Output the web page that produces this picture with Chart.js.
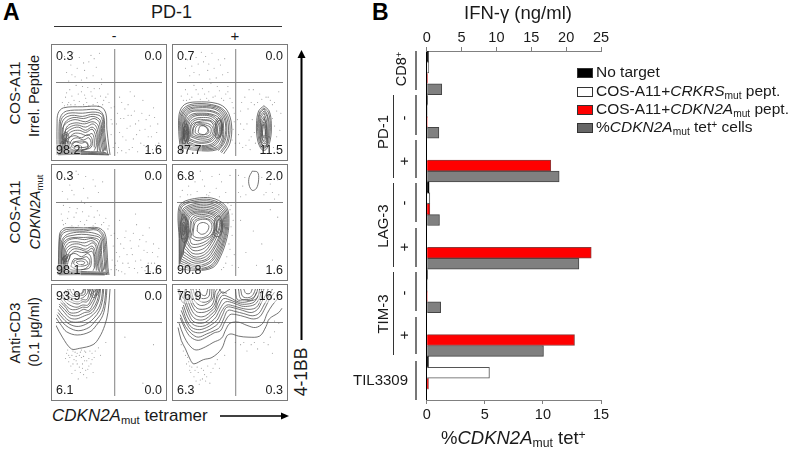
<!DOCTYPE html>
<html>
<head>
<meta charset="utf-8">
<script src="https://cdn.jsdelivr.net/npm/chart.js@4"></script>
<style>
html, body { margin: 0; padding: 0; background: #fff; }
body { width: 791px; height: 452px; position: relative; overflow: hidden; font-family: "Liberation Sans", Arial, sans-serif; color: #1a1a1a; }
.t { position: absolute; white-space: nowrap; line-height: 1; }
.rot { transform: translate(-50%, -50%) rotate(-90deg); }
.mid { transform: translate(-50%, -50%); }
sub { font-size: 66%; vertical-align: baseline; position: relative; top: .28em; }
sup { font-size: 66%; vertical-align: baseline; position: relative; top: -.38em; }
.plot { position: absolute; width: 114px; height: 115px; outline: 1px solid #7a7a7a; }
.plot canvas { display: block; }
.q { position: absolute; font-size: 12.5px; line-height: 1; padding: 0 1px; }
.q.tl { left: 3px; top: 5px; } .q.tr { right: 3px; top: 5px; }
.q.bl { left: 3px; bottom: 4px; background: rgba(255,255,255,.35); } .q.br { right: 3px; bottom: 4px; }
.swatch { position: absolute; left: 577px; width: 14px; height: 8px; border: 1px solid #333; }
.ln { position: absolute; }
</style>
</head>
<body>

<div class="t" style="left:3px;top:1px;font-size:23px;font-weight:bold;color:#000">A</div>
<div class="t" style="left:372px;top:1px;font-size:23px;font-weight:bold;color:#000">B</div>

<div class="t" style="left:151px;top:3px;font-size:18px">PD-1</div>
<div class="ln" style="left:54px;top:26px;width:228px;height:1px;background:#333"></div>
<div class="t mid" style="left:114px;top:36px;font-size:14px">-</div>
<div class="t mid" style="left:235px;top:35px;font-size:15px">+</div>

<div class="t rot" style="left:14px;top:93px;font-size:15px">COS-A11</div>
<div class="t rot" style="left:34px;top:96px;font-size:14.5px">Irrel. Peptide</div>
<div class="t rot" style="left:14px;top:212px;font-size:15px">COS-A11</div>
<div class="t rot" style="left:35px;top:212px;font-size:14.5px"><i>CDKN2A</i><sub>mut</sub></div>
<div class="t rot" style="left:14px;top:333px;font-size:15px">Anti-CD3</div>
<div class="t rot" style="left:34px;top:332px;font-size:14.5px">(0.1 μg/ml)</div>

<div class="t" style="left:52px;top:407px;font-size:17px"><i>CDKN2A</i><sub>mut</sub> tetramer</div>
<div class="t rot" style="left:302px;top:372px;font-size:17.5px">4-1BB</div>

<svg style="position:absolute;left:0;top:0" width="791" height="452">
  <line x1="301.5" y1="340" x2="301.5" y2="56" stroke="#000" stroke-width="2"/>
  <path d="M301.5 50 L297.5 58 L305.5 58 Z" fill="#000"/>
  <line x1="220" y1="416" x2="284" y2="416" stroke="#000" stroke-width="1.5"/>
  <path d="M289 416 L281 412.5 L281 419.5 Z" fill="#000"/>
</svg>

<div class="plot" id="plot0" style="left:52px;top:45px"><canvas id="c0" width="114" height="115"></canvas></div>
<div class="plot" id="plot1" style="left:173px;top:45px"><canvas id="c1" width="114" height="115"></canvas></div>
<div class="plot" id="plot2" style="left:52px;top:165px"><canvas id="c2" width="114" height="115"></canvas></div>
<div class="plot" id="plot3" style="left:173px;top:165px"><canvas id="c3" width="114" height="115"></canvas></div>
<div class="plot" id="plot4" style="left:52px;top:285px"><canvas id="c4" width="114" height="115"></canvas></div>
<div class="plot" id="plot5" style="left:173px;top:285px"><canvas id="c5" width="114" height="115"></canvas></div>

<!-- painel B -->
<canvas id="barChart" width="240" height="430" style="position:absolute;left:400px;top:20px"></canvas>

<div class="t" style="left:464px;top:4px;font-size:18.5px">IFN-γ (ng/ml)</div>
<div class="t" style="left:441px;top:429px;font-size:18.5px">%<i>CDKN2A</i><sub>mut</sub> tet<sup>+</sup></div>

<div class="t rot" style="left:401px;top:69px;font-size:14.5px">CD8<sup>+</sup></div>
<div class="t rot" style="left:382px;top:132px;font-size:15px">PD-1</div>
<div class="t rot" style="left:403px;top:118px;font-size:15px">-</div>
<div class="t rot" style="left:403px;top:161px;font-size:15px">+</div>
<div class="t rot" style="left:382px;top:226px;font-size:15px">LAG-3</div>
<div class="t rot" style="left:403px;top:203px;font-size:15px">-</div>
<div class="t rot" style="left:403px;top:247px;font-size:15px">+</div>
<div class="t rot" style="left:382px;top:314px;font-size:15px">TIM-3</div>
<div class="t rot" style="left:403px;top:293px;font-size:15px">-</div>
<div class="t rot" style="left:403px;top:335px;font-size:15px">+</div>
<div class="t" style="left:353px;top:372px;font-size:15px">TIL3309</div>

<div class="ln" style="left:393px;top:95px;width:1px;height:83px;background:#333"></div>
<div class="ln" style="left:393px;top:183px;width:1px;height:84px;background:#333"></div>
<div class="ln" style="left:393px;top:272px;width:1px;height:83px;background:#333"></div>
<div class="ln" style="left:415px;top:51px;width:2px;height:39px;background:#777"></div>
<div class="ln" style="left:415px;top:95px;width:2px;height:40px;background:#777"></div>
<div class="ln" style="left:415px;top:140px;width:2px;height:38px;background:#777"></div>
<div class="ln" style="left:415px;top:183px;width:2px;height:39px;background:#777"></div>
<div class="ln" style="left:415px;top:228px;width:2px;height:39px;background:#777"></div>
<div class="ln" style="left:415px;top:272px;width:2px;height:39px;background:#777"></div>
<div class="ln" style="left:415px;top:317px;width:2px;height:37px;background:#777"></div>
<div class="ln" style="left:415px;top:361px;width:2px;height:39px;background:#777"></div>

<div class="swatch" style="top:68px;background:#000"></div>
<div class="swatch" style="top:87px;background:#fff"></div>
<div class="swatch" style="top:105px;background:#f00"></div>
<div class="swatch" style="top:123px;background:#666"></div>
<div class="t" style="left:596px;top:64px;font-size:15.5px">No target</div>
<div class="t" style="left:596px;top:83px;font-size:15.5px">COS-A11+<i>CRKRS</i><sub>mut</sub> pept.</div>
<div class="t" style="left:596px;top:101px;font-size:15.5px">COS-A11+<i>CDKN2A</i><sub>mut</sub> pept.</div>
<div class="t" style="left:596px;top:119px;font-size:15.5px">%<i>CDKN2A</i><sub>mut</sub> tet<sup>+</sup> cells</div>

<script>
// ---- painel B: barras ----
const groupLabels = ['CD8+', 'PD-1 -', 'PD-1 +', 'LAG-3 -', 'LAG-3 +', 'TIM-3 -', 'TIM-3 +', 'TIL3309'];
const noTarget = [0.25, 0.1, 0, 0.35, 0, 0.1, 0, 0.25];
const crkrsPept = [0.3, 0.1, 0, 0.45, 0, 0.1, 0, 9.0];
const cdkn2aPept = [0.1, 0.05, 17.8, 0.45, 23.6, 0.05, 21.2, 0.25];
const tetCells = [1.3, 1.05, 11.4, 1.1, 13.1, 1.2, 10.05, 0];
const ifnTicks = [0, 5, 10, 15, 20, 25];
const tetTicks = [0, 5, 10, 15];

// ---- painel A: valores dos quadrantes (sup esq, sup dir, inf esq, inf dir) ----
const quadrants = [
    ['0.3', '0.0', '98.2', '1.6'],
    ['0.7', '0.0', '87.7', '11.5'],
    ['0.3', '0.0', '98.1', '1.6'],
    ['6.8', '2.0', '90.8', '1.6'],
    ['93.9', '0.0', '6.1', '0.0'],
    ['76.9', '16.6', '6.3', '0.3']
];
const gateX = 55.4;
const gateY = 68.7;

// contornos, em % do painel (x, y, x, y, ...)
const contoursIrrelNeg = [
    [1,1, 1,30, 2,40, 7,45, 25,46, 42,46, 47,40, 48,25, 50,8, 51,1],
    [3,1, 3,30, 5,38, 10,42, 25,43, 40,43, 45,37, 46,22, 48,6, 49,1],
    [4,1, 4,29, 6,36, 12,40, 25,40, 37,41, 44,38, 45,21, 47,5],
    [5,2, 5,28, 8,35, 15,38, 25,37, 35,39, 43,36, 44,20, 46,5],
    [6,2, 7,27, 10,33, 17,36, 26,35, 35,37, 42,33, 43,18, 45,4],
    [6,3, 6,25, 10,31, 18,34, 28,32, 36,35, 41,31, 42,15, 44,4],
    [8,3, 9,24, 12,29, 19,31, 27,30, 35,32, 40,28, 41,14, 42,4],
    [7,4, 8,22, 13,27, 20,29, 28,27, 35,30, 39,25, 40,12, 41,5],
    [9,5, 10,21, 14,25, 21,27, 28,24, 34,27, 38,23, 39,11, 39,4],
    [9,6, 10,18, 15,23, 22,24, 28,22, 34,25, 37,20, 38,10, 36,5],
    [10,7, 12,16, 17,21, 23,21, 29,19, 34,21, 36,16, 36,8],
    [7,12, 12,17, 18,19, 24,17, 30,20, 34,16, 33,8, 24,6, 14,6, 7,12],
    [12,8, 15,15, 20,17, 26,15, 31,17, 33,11, 28,6, 18,5, 12,8],
    [14,9, 18,13, 24,12, 29,13, 30,8, 22,5, 14,9],
    [8,15, 12,12, 10,8, 6,9, 8,15],
    [6,20, 10,22, 12,18, 9,15, 6,16, 6,20],
    [7,19, 10,20, 10,17, 8,16, 7,19],
    [16,13, 22,14, 28,13, 30,9, 22,8, 16,10, 16,13],
    [17,8, 20,10, 24,9, 23,6, 18,6, 17,8],
    [6,10, 9,14, 13,13, 15,9, 10,7, 6,10],
    [5,4, 12,5, 25,4, 40,4, 47,3],
    [4,3, 15,4, 30,3.5, 48,2.5],
    [2,2, 15,3, 30,2.5, 50,1.5],
    [2,1, 15,1.5, 30,1.5, 50,1],
    [2,1.6, 20,2, 45,1.8],
    [5,6, 8,10, 6,14, 4,10, 5,6]
];
const contoursIrrelPos = [
    [4,2, 2,17, 2,39, 7,48, 18,50.5, 38,49, 47,43, 51.5,29, 50,12, 44,2],
    [5,3, 3,18, 3,38, 8,46, 19,49, 37,47, 46,41, 50,28, 48,12, 42,3],
    [6,4, 4,18, 4,37, 9,45, 19,47.5, 37,46, 45,40, 48.5,28, 47,13, 41,4],
    [6,5, 5,19, 5,37, 10,44, 20,46, 36,45, 44,39, 47,27, 45,13, 39,5],
    [7,7, 6,20, 6,36, 11,43, 20,45, 35,44, 43,38, 46,27, 44,14, 38,6, 20,5, 7,7],
    [8,8, 7,21, 7,35, 12,42, 21,43, 34,42, 42,37, 44,26, 43,14, 37,7, 20,6, 8,8],
    [9,9, 7,22, 8,35, 13,41, 22,42, 34,41, 41,36, 43,26, 42,15, 36,8, 20,7, 9,9],
    [10,11, 8,22, 9,34, 14,39, 23,40, 33,39, 40,35, 42,25, 40,15, 34,9, 20,8, 10,11],
    [10,12, 9,23, 10,33, 15,38, 24,39, 33,38, 39,33, 41,25, 39,16, 33,10, 20,9, 10,12],
    [11,13, 10,23, 11,32, 16,37, 24,38, 32,37, 38,32, 40,25, 38,17, 32,11, 20,10, 11,13],
    [11,15, 11,24, 12,31, 17,35, 25,36, 32,35, 37,30, 38,24, 36,17, 31,13, 20,12, 11,15],
    [12,16, 12,24, 14,31, 19,34, 25,34, 32,33, 36,29, 37,23, 34,17, 30,14, 21,13, 12,16],
    [13,18, 13,25, 15,30, 20,32, 26,33, 32,32, 35,27, 35,21, 31,16, 22,15, 13,18],
    [14,19, 15,26, 18,31, 24,31, 30,30, 34,26, 33,20, 28,17, 20,17, 14,19],
    [15,21, 16,27, 20,30, 27,29, 32,26, 31,20, 25,18, 18,19, 15,21],
    [17,22, 18,27, 21,29, 26,28, 29,24, 26,20, 20,20, 17,22],
    [20,23, 22,28, 28,27, 30,22, 26,20, 21,21, 20,23],
    [5,12, 5,28, 8,33, 10,22, 8,12, 5,12],
    [6,16, 6,26, 8,28, 9,21, 7,16, 6,16],
    [6,18, 7,25, 8,22, 7,18, 6,18],
    [7,14, 6,24, 9,30, 11,24, 9,14, 7,14],
    [38,20, 38,32, 41,33, 42,24, 40,18, 38,20],
    [36,22, 37,33, 40,35, 43,28, 41,18, 37,17, 36,22],
    [82,47, 77,42, 75,30, 76,15, 80,6, 84,6, 88,15, 89,30, 87,42, 82,47],
    [82,45, 78,41, 76,30, 77,16, 80,8, 84,8, 87,16, 88,30, 86,41, 82,45],
    [82,44, 78,39, 77,29, 78,16, 81,9, 84,9, 86,16, 87,29, 85,39, 82,44],
    [82,42, 78.5,37, 78,28, 78.5,17, 81,10, 84,10, 85.5,17, 86,28, 85,37, 82,42],
    [82,40, 79,35, 79,27, 79,17, 81,12, 84,12, 85,18, 85,27, 84,35, 82,40],
    [82,37, 79.5,33, 79.5,25, 80,17, 82,13, 84,14, 84.5,20, 84.5,27, 83.5,32, 82,37],
    [82,35, 80,30, 80,22, 81,15, 83,15, 84,22, 84,30, 82,35],
    [82,32, 80.5,28, 80.5,21, 81.5,17, 83,17, 83.5,23, 83.5,28, 82,32],
    [82,30, 81,25, 81,19, 83,19, 83,25, 82,30]
];
const contoursCdkn2aNeg = [
    [2,1, 3,33, 4,41, 9,45, 26,45, 40,45, 46,40, 48,26, 49,8, 50,1],
    [3,1, 3,32, 5,40, 10,43.5, 26,43.5, 39,44, 45,38, 47,24, 48,7, 49,1],
    [4,1, 4,32, 6,39, 12,42, 26,42, 38,43, 44,37, 46,22, 47,6, 48,1],
    [5,1, 5,31, 8,37, 14,40, 25,41, 36,40, 43,36, 45,21, 46,6],
    [5,2, 6,30, 9,36, 16,38, 24,39, 34,38, 42,35, 43,20, 45,5],
    [6,2, 6,28, 10,34, 17,36, 26,36, 34,36, 41,33, 42,18, 44,4],
    [7,3, 7,27, 11,33, 18,35, 27,34, 34,35, 40,31, 41,16, 43,4],
    [7,3, 8,25, 12,31, 19,32, 27,31, 34,33, 39,28, 40,14, 41,4],
    [8,4, 9,24, 14,29, 21,30, 28,28, 35,31, 38,26, 39,12, 40,5],
    [9,5, 10,22, 15,27, 21,27, 28,25, 34,28, 37,23, 38,11, 38,5],
    [9,6, 11,19, 16,25, 22,25, 29,23, 34,26, 36,21, 37,10, 35,5],
    [10,7, 13,18, 18,23, 24,22, 30,22, 34,23, 36,17, 36,8],
    [7,12, 12,19, 18,21, 24,18, 30,21, 33,17, 32,8, 24,6, 14,6, 7,12],
    [14,9, 17,16, 23,16, 29,18, 32,13, 28,7, 20,6, 14,9],
    [6,16, 10,20, 13,18, 11,14, 7,14, 6,16],
    [6,17, 9,19, 11,17, 9,15, 7,15, 6,17],
    [7,17, 9,18, 10,17, 8,16, 7,17],
    [17,14, 22,16, 28,15, 30,11, 22,9, 17,11, 17,14],
    [19,13, 23,14, 27,13, 26,11, 21,11, 19,13],
    [3,4, 15,4.5, 30,4, 47,3.5],
    [3,2.5, 15,3, 30,3, 48,2.5],
    [3,1.5, 15,2, 30,2, 48,1.5],
    [3,2, 20,2.5, 45,2],
    [3,1, 20,1.2, 46,1]
];
const contoursCdkn2aPos = [
    [2,7, 2,35, 1,58, 4,68, 21,73, 36,72, 47,64, 49,50, 47,35, 41,18, 34,8, 18,5, 2,7],
    [2.5,10, 2.5,35, 2,58, 5,67, 21,71.5, 35,70.5, 46,63, 48,50, 46,36, 40,19, 33,9, 18,6, 2.5,10],
    [3,12, 3,35, 3,57, 6,66, 21,70, 35,69, 45,62, 47,50, 45,36, 39,20, 32,10, 18,7, 3,12],
    [3.5,14, 4,36, 4,56, 7,64, 22,68.5, 34,67.5, 44,61, 46,50, 44,36, 38,21, 31,12, 18,8.5, 3.5,14],
    [4,16, 5,36, 5,56, 8,63, 22,67, 34,66, 43,60, 45,50, 43,37, 37,22, 30,13, 17,10, 4,16],
    [5,18, 6,37, 6,55, 9,62, 22,65.5, 33,64.5, 42,59, 44,50, 42,38, 36,23, 29,15, 17,12, 5,18],
    [6,20, 7,38, 7,55, 10,61, 22,64, 33,63, 41,58, 43,49, 41,38, 35,25, 28,16, 17,14, 6,20],
    [6,23, 8,39, 8,54, 11,60, 22,62.5, 32,61.5, 40,57, 42,48, 40,38, 34,26, 27,18, 17,16, 6,23],
    [7,26, 9,40, 9,54, 12,59, 22,61, 32,60, 39,56, 41,48, 38,38, 33,28, 26,20, 16,18, 7,26],
    [8,28, 10,41, 10,53, 13,58, 22,60, 31,59, 38,55, 40,47, 37,39, 32,30, 25,22, 15,21, 8,28],
    [9,31, 11,42, 11,52, 14,57, 23,59, 31,58, 37,54, 38,47, 36,39, 31,31, 24,25, 15,24, 9,31],
    [10,33, 12,43, 13,52, 16,56, 23,57.5, 30,56.5, 36,53, 37,46, 34,38, 30,32, 23,28, 14,27, 10,33],
    [12,35, 13,44, 14,51, 18,55, 24,56, 30,55, 35,51, 36,45, 33,38, 28,33, 21,30, 14,30, 12,35],
    [13,36, 15,45, 16,51, 21,54, 27,54, 33,51, 35,45, 32,38, 26,35, 19,33, 13,36],
    [15,38, 16,46, 18,51, 24,53, 30,52, 33,47, 31,40, 25,36, 18,36, 15,38],
    [19,42, 20,48, 25,50, 30,47, 28,41, 23,39, 19,42],
    [4,35, 4,50, 7,55, 9,45, 8,35, 4,35],
    [5,39, 5,49, 7,50, 8,44, 6,38, 5,39],
    [5,33, 3,46, 6,58, 10,50, 10,38, 7,31, 5,33],
    [5.5,42, 6,48, 7,46, 6.5,41, 5.5,42],
    [37,42, 38,52, 41,52, 42,46, 40,40, 37,42],
    [35,40, 36,54, 40,56, 43,48, 41,38, 36,37, 35,40],
    [71,98, 68,92, 68,85, 71,80, 75,82, 77,90, 76,97, 71,98]
];
const contoursCd3Neg = [
    [0,66, 6,55, 14.5,44, 22,44.5, 35,48, 41,55, 46,66, 49,78, 51,100],
    [0,73, 5,66, 10,60, 20,57, 32,60, 38,66, 44,75, 47,88, 48,100],
    [1,76, 6,69, 12,64, 21,61, 31,64, 37,70, 43,78, 46,89, 47,100],
    [2,78, 7,72, 13,67, 21,65, 30,68, 36,73, 41,80, 44,90, 45,100],
    [2,81, 7,75, 13,70, 20,69, 28,71, 35,76, 40,82, 43,91, 44,100],
    [3,84, 8,78, 13,73, 19,72, 27,75, 34,78, 38,84, 41,92, 42,100],
    [3,86, 8,81, 13,76, 20,75, 27,78, 32,79, 37,85, 40,93, 41,100],
    [4,88, 9,83, 13,78, 20,78, 26,81, 31,80, 35,86, 38,93, 39,100],
    [4,91, 9,85, 14,81, 20,81, 25,83, 30,83, 34,88, 37,94, 38,100],
    [5,93, 10,87, 15,84, 20,83, 25,85, 30,85, 33,90, 35,95, 36,100],
    [6,95, 10,90, 16,87, 21,86, 25,88, 29,88, 32,92, 34,97, 34,100],
    [7,97, 11,92, 16,89, 21,88, 25,90, 29,90, 31,95, 32,100],
    [9,99, 12,93, 17,91, 23,91, 27,93, 30,97, 30,100],
    [11,100, 14,94, 19,93, 24,94, 27,95, 28,100],
    [13,100, 16,95, 21,95, 25,96, 27,100],
    [16,100, 19,96, 24,96, 26,100],
    [30,100, 33,94, 36,92, 40,96, 41,100],
    [32,100, 34,96, 37,94, 39,97, 40,100],
    [34,100, 36,97, 38,100]
];
const contoursCd3Pos = [
    [1,64, 4,52, 8,44, 13,33, 16,30, 25,34, 33,36, 42,44, 47,56, 51,58, 58,56, 67,55, 78,56, 84,65, 87,72, 96,78, 99,82],
    [2,68, 6,57, 12,47, 18,43, 27,46, 34,50, 42,54, 46,62, 50,68, 58,69, 66,66, 74,64, 81,68, 85,77, 90,85, 96,92],
    [3,73, 8,62, 13,55, 20,52, 28,55, 35,59, 41,61, 45,69, 50,76, 56,76, 64,74, 72,72, 78,74, 83,82, 87,90, 92,97],
    [3,76, 8,65, 14,58, 20,55, 28,58, 35,61, 40,64, 44,72, 48,80, 55,79, 63,77, 71,75, 77,77, 82,85, 86,92, 90,100],
    [4,80, 9,68, 14,61, 21,59, 28,61, 34,64, 39,68, 43,76, 47,83, 55,82, 62,80, 70,78, 76,81, 80,88, 84,95, 86,100],
    [5,83, 9,71, 14,64, 21,62, 28,64, 33,67, 38,71, 42,79, 47,85, 54,84, 61,82, 69,81, 75,83, 79,90, 82,100],
    [6,85, 10,74, 15,67, 21,65, 27,66, 33,70, 37,74, 41,82, 46,88, 53,87, 61,84, 68,84, 74,86, 78,92, 80,100],
    [7,88, 11,77, 15,70, 21,68, 27,69, 32,73, 36,77, 40,85, 44,91, 52,89, 60,86, 67,86, 73,88, 77,95, 78,100],
    [8,90, 12,79, 16,73, 21,71, 27,72, 32,76, 36,80, 39,88, 43,94, 50,92, 58,88, 66,88, 72,91, 75,97],
    [9,93, 13,82, 17,76, 22,74, 27,75, 32,79, 36,83, 38,91, 42,97, 47,96],
    [10,95, 14,85, 18,79, 23,78, 28,79, 33,82, 36,87, 38,95, 41,100],
    [12,98, 15,87, 19,82, 24,81, 29,82, 33,85, 35,90, 36,97, 38,100],
    [13,100, 16,90, 21,85, 26,85, 31,88, 34,92, 35,100],
    [15,100, 18,92, 23,88, 28,88, 32,91, 33,100],
    [18,100, 20,93, 25,91, 30,93, 31,100],
    [21,100, 23,95, 27,94, 29,100],
    [60,100, 62,93, 68,92, 72,95, 74,100],
    [58,100, 60,91, 66,90, 72,92, 75,96, 76,100],
    [63,100, 65,96, 69,96, 71,100],
    [55,100, 57,90, 64,90, 70,89, 76,92, 78,100],
    [1,100, 3,92, 6,87, 8,94, 9,100],
    [2,100, 4,95, 6,91, 7,96, 8,100],
    [40,100, 43,96, 47,98, 50,100]
];

// pontos soltos, lidos por região
const dotsIrrelNeg = [10,78,14,85,18,74,22,92,27,80,31,88,35,75,8,93,24,71,38,83,41,96,16,97,29,73,33,94,12,70,20,82,26,87,15,76,36,91,43,72,
    6,50,9,55,13,62,17,52,21,58,25,65,29,50,33,60,37,54,41,63,45,52,49,58,52,45,11,48,19,66,27,57,35,48,43,67,
    8,47,12,50,15,56,18,48,22,51,24,60,26,48,28,54,31,47,34,56,36,63,39,50,42,56,44,48,47,55,50,50,10,59,14,48,30,64,40,47,
    53,30,56,12,58,40,60,22,62,5,64,35,66,15,68,48,70,28,72,8,74,42,76,20,78,33,80,12,82,52,84,25,86,5,88,38,90,18,92,45,94,10,96,30,60,55,70,60,52,20,54,8,66,3,
    57,30,59,8,61,35,63,18,65,44,67,26,69,6,71,38,73,16,75,30,77,4,79,24,81,40,83,10,85,34,87,18,89,28,91,6,93,36,95,22,97,12,62,50,68,38,74,56,52,34,55,46,58,3];
const dotsIrrelPos = [6,95,10,90,14,84,18,92,21,76,25,88,29,80,33,96,37,73,41,85,45,91,12,75,23,97,31,72,48,78,16,78,20,86,27,93,35,82,39,90,43,76,8,82,30,86,
    4,56,8,62,12,53,16,66,20,58,24,63,28,54,32,68,36,56,40,61,44,52,48,65,52,50,54,40,53,25,55,12,9,52,30,60,
    6,52,10,58,14,55,18,62,22,53,26,58,30,52,34,55,38,65,42,54,46,58,50,54,53,45,54,32,52,15,48,60,
    58,20,60,42,62,8,64,55,66,30,68,15,70,50,72,62,73,22,90,35,92,50,94,18,96,60,91,8,78,58,84,55,60,30,65,10,98,40,
    57,34,59,12,61,50,63,25,67,44,69,6,71,34,73,48,74,12,88,52,90,48,92,28,94,42,95,6,97,24,86,55,80,53,76,50,70,18,68,62];
const dotsCdkn2aNeg = [8,92,13,85,17,76,21,95,26,82,30,73,35,90,40,78,44,88,11,72,24,70,19,98,15,80,28,93,37,84,6,79,
    5,58,9,49,13,64,17,55,21,47,25,60,29,52,33,65,37,49,41,57,45,50,49,44,52,38,7,66,27,68,
    7,48,11,54,15,47,19,59,23,51,27,48,31,56,35,47,39,61,43,48,47,54,50,47,6,52,12,60,20,63,36,55,
    54,28,56,10,58,35,60,18,62,4,64,26,66,42,68,12,70,33,72,20,74,7,76,48,78,28,80,15,82,38,84,5,86,22,88,45,90,12,92,30,94,3,96,18,60,52,75,58,57,6,65,2,
    55,40,57,22,59,5,61,30,63,12,65,36,67,20,69,8,71,26,73,40,75,14,77,3,79,34,81,8,83,24,85,32,87,12,89,4,91,22,93,12,95,8,97,26,53,15,52,6,58,14];
const dotsCdkn2aPos = [7,92,11,84,15,96,19,79,24,90,28,76,33,93,37,82,42,88,46,78,50,94,5,80,22,98,13,76,26,84,31,78,40,95,17,88,
    58,94,62,84,65,76,80,92,84,78,88,86,92,72,95,90,60,74,58,78,64,92,82,76,90,78,96,76,
    3,74,10,76,40,74,51,66,53,52,52,38,50,25,47,18,44,8,60,52,72,42,80,30,90,15,95,55,65,22,75,10,88,62,58,8,
    50,62,52,58,51,46,49,30,46,12,42,6,48,68,30,75,54,20,52,10];
const dotsCd3Neg = [10,40,13,36,16,42,19,33,22,38,25,30,28,41,31,35,34,40,14,28,18,24,23,22,27,33,30,25,
    12,32,20,40,24,36,16,30,33,30,37,42,9,35,26,20,21,16,29,17,35,22,40,45,42,38,47,50,65,55,82,12,92,48,
    11,43,15,38,17,34,20,30,23,41,26,37,29,33,32,42,36,36,15,21,19,37,25,26,28,24,18,41,24,43,31,28,12,38,22,27,27,42,34,34];
const dotsCd3Pos = [8,38,11,32,14,27,17,24,20,22,23,26,26,20,29,28,32,22,12,24,18,14,24,16,31,12,36,30,
    40,26,9,30,70,48,76,44,82,50,88,55,92,60,96,68,90,40,60,48,66,42,55,50,4,48,6,42,
    10,36,13,22,16,18,19,27,22,15,25,24,28,18,34,26,38,34,12,28,21,11,27,14,92,70,86,48,73,50,63,50,45,38];

const contours = [contoursIrrelNeg, contoursIrrelPos, contoursCdkn2aNeg, contoursCdkn2aPos, contoursCd3Neg, contoursCd3Pos];
const dots = [dotsIrrelNeg, dotsIrrelPos, dotsCdkn2aNeg, dotsCdkn2aPos, dotsCd3Neg, dotsCd3Pos];

function toPoints(flat) {
    const pts = [];
    for (let i = 0; i < flat.length; i += 2) pts.push({ x: flat[i], y: flat[i + 1] });
    return pts;
}

document.addEventListener('DOMContentLoaded', function() {
    Chart.defaults.font.family = '"Liberation Sans", Arial, sans-serif';
    Chart.defaults.animation = false;

    // Gráficos de contorno
    contours.forEach(function(lines, i) {
        const datasets = [{
            data: toPoints(dots[i]),
            showLine: false,
            pointRadius: 0.55,
            pointBackgroundColor: 'rgba(90,90,90,.6)',
            pointBorderWidth: 0
        }];
        lines.forEach(function(line) {
            datasets.push({
                data: toPoints(line),
                showLine: true,
                tension: 0.35,
                pointRadius: 0,
                borderWidth: 0.8,
                borderColor: '#505050'
            });
        });
        datasets.push({ data: [{ x: gateX, y: 0 }, { x: gateX, y: 100 }], showLine: true, pointRadius: 0, borderWidth: 1, borderColor: '#808080' });
        datasets.push({ data: [{ x: 0, y: gateY }, { x: 100, y: gateY }], showLine: true, pointRadius: 0, borderWidth: 1, borderColor: '#808080' });

        new Chart(document.getElementById('c' + i), {
            type: 'scatter',
            data: { datasets: datasets },
            options: {
                responsive: false,
                layout: { padding: 0 },
                plugins: { legend: { display: false }, tooltip: { enabled: false } },
                scales: {
                    x: { type: 'linear', display: false, min: 0, max: 100 },
                    y: { type: 'linear', display: false, min: 0, max: 100 }
                }
            }
        });

        const plot = document.getElementById('plot' + i);
        ['tl', 'tr', 'bl', 'br'].forEach(function(pos, k) {
            const s = document.createElement('span');
            s.className = 'q ' + pos;
            s.textContent = quadrants[i][k];
            plot.appendChild(s);
        });
    });
    // os valores do painel Anti-CD3 ficam no topo sobre os contornos
    document.querySelectorAll('#plot4 .tl, #plot5 .tl, #plot5 .tr').forEach(function(el) {
        el.style.background = 'rgba(255,255,255,.45)';
    });

    // Gráfico de barras
    const tickFont = { size: 14.5 };
    new Chart(document.getElementById('barChart'), {
        type: 'bar',
        data: {
            labels: groupLabels,
            datasets: [
                { label: 'No target', data: noTarget, xAxisID: 'ifn', backgroundColor: '#000', borderColor: '#000', borderWidth: 1 },
                { label: 'COS-A11+CRKRSmut pept.', data: crkrsPept, xAxisID: 'ifn', backgroundColor: '#fff', borderColor: '#555', borderWidth: 1 },
                { label: 'COS-A11+CDKN2Amut pept.', data: cdkn2aPept, xAxisID: 'ifn', backgroundColor: '#f00', borderColor: '#8c3a3a', borderWidth: 1 },
                { label: '%CDKN2Amut tet+ cells', data: tetCells, xAxisID: 'tet', backgroundColor: '#808080', borderColor: '#444', borderWidth: 1 }
            ]
        },
        options: {
            indexAxis: 'y',
            responsive: false,
            barPercentage: 1,
            categoryPercentage: 1,
            layout: { padding: { left: 26.7, right: 39, top: 11, bottom: 28 } },
            plugins: { legend: { display: false }, tooltip: { enabled: false } },
            scales: {
                y: {
                    type: 'category',
                    ticks: { display: false },
                    grid: { display: false },
                    border: { color: '#000', width: 1 },
                    afterFit: function(scale) { scale.width = 0; }
                },
                ifn: {
                    type: 'linear',
                    position: 'top',
                    min: 0,
                    max: 25,
                    afterBuildTicks: function(scale) { scale.ticks = ifnTicks.map(v => ({ value: v })); },
                    ticks: { font: tickFont, color: '#1a1a1a', padding: 0, maxRotation: 0 },
                    grid: { drawOnChartArea: false, drawTicks: true, tickLength: 4, color: '#808080' },
                    border: { color: '#808080' },
                    afterFit: function(scale) { scale.height = 20; }
                },
                tet: {
                    type: 'linear',
                    position: 'bottom',
                    min: 0,
                    max: 15,
                    afterBuildTicks: function(scale) { scale.ticks = tetTicks.map(v => ({ value: v })); },
                    ticks: { font: tickFont, color: '#1a1a1a', padding: 2, maxRotation: 0 },
                    grid: { drawOnChartArea: false, drawTicks: true, tickLength: 4, color: '#808080' },
                    border: { color: '#808080' },
                    afterFit: function(scale) { scale.height = 22; }
                }
            }
        }
    });
});
</script>
</body>
</html>
